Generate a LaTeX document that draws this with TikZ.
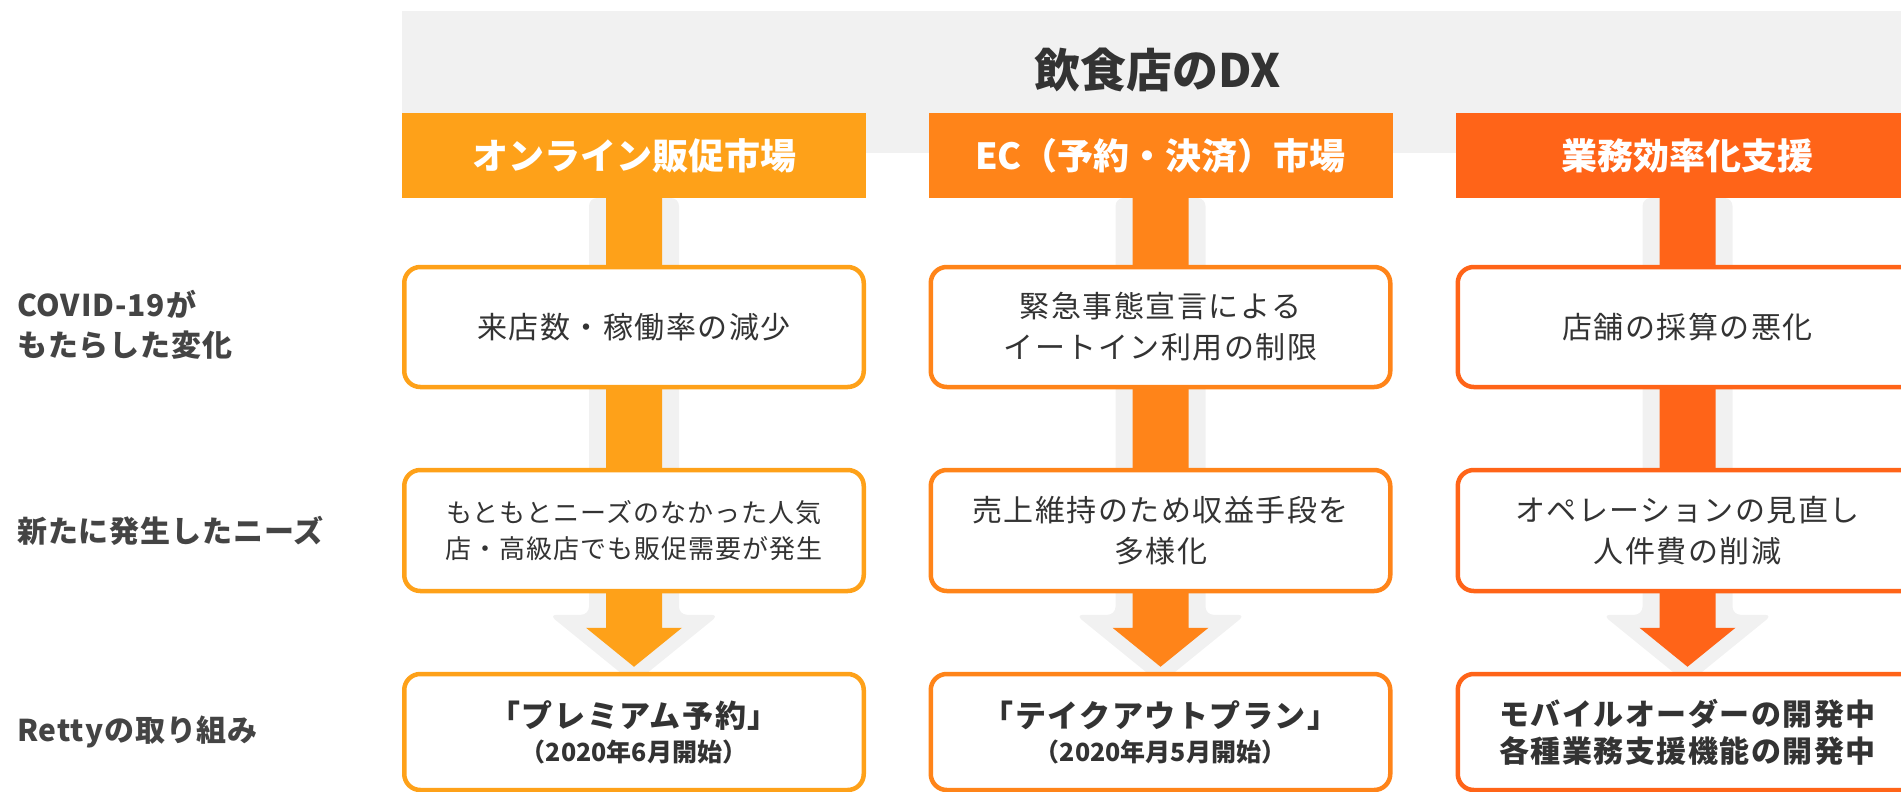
\documentclass[tikz,border=0pt]{standalone}
\usepackage{fontspec}
\setmainfont{Noto Sans CJK JP}
\usetikzlibrary{calc}
\pgfdeclarelayer{bandlayer}
\pgfdeclarelayer{shadowlayer}
\pgfdeclarelayer{stemlayer}
\pgfsetlayers{bandlayer,shadowlayer,stemlayer,main}
\definecolor{cA}{HTML}{FEA119}
\definecolor{cB}{HTML}{FF8419}
\definecolor{cC}{HTML}{FF6418}
\definecolor{bandgray}{HTML}{F1F1F1}
\definecolor{txt}{HTML}{333333}
\definecolor{lbl}{HTML}{444444}
\newcommand{\bodyfont}{\fontsize{30}{41}\selectfont\addfontfeature{LetterSpace=5}}
\newcommand{\smallbodyfont}{\fontsize{26}{36}\selectfont\addfontfeature{LetterSpace=4}}
\begin{document}
\begin{tikzpicture}[x=1pt,y=-1pt,
  hdr/.style={minimum width=464, minimum height=85, inner sep=0, outer sep=0,
    text=white, font=\fontsize{36}{40}\selectfont\bfseries},
  boxA/.style={draw, line width=4.5, fill=white, rounded corners=16,
    minimum width=459.5, inner sep=0, align=center, text=txt},
  row1/.style={boxA, minimum height=120},
  row2/.style={boxA, minimum height=121},
  row3/.style={boxA, minimum height=116},
  sidelabel/.style={anchor=west, align=left, inner sep=0, text=lbl,
    font=\fontsize{30}{40}\selectfont\bfseries\addfontfeature{LetterSpace=3}},
  titlefont/.style={text=txt, inner sep=0, font=\fontsize{46}{50}\selectfont\bfseries}
]
\useasboundingbox (0,0) rectangle (1901,792);

\begin{pgfonlayer}{bandlayer}
  \fill[bandgray] (402,11) rectangle (1901,153);
\end{pgfonlayer}

\node[titlefont] (title) at (1158,70) {飲食店のDX};

% headers
\node[hdr, fill=cA] (h1) at (634,155.5) {オンライン販促市場};
\node[hdr, fill=cB] (h2) at (1160.5,155.5) {EC（予約・決済）市場};
\node[hdr, fill=cC] (h3) at (1687.5,155.5) {業務効率化支援};

% row 1
\node[row1, draw=cA, font=\bodyfont] (r11) at (634,327) {来店数・稼働率の減少};
\node[row1, draw=cB, font=\bodyfont] (r21) at (1160.5,327) {緊急事態宣言による\\イートイン利用の制限};
\node[row1, draw=cC, font=\bodyfont] (r31) at (1687.5,327) {店舗の採算の悪化};

% row 2
\node[row2, draw=cA, font=\smallbodyfont] (r12) at (634,530.5) {もともとニーズのなかった人気\\店・高級店でも販促需要が発生};
\node[row2, draw=cB, font=\bodyfont] (r22) at (1160.5,530.5) {売上維持のため収益手段を\\多様化};
\node[row2, draw=cC, font=\bodyfont] (r32) at (1687.5,530.5) {オペレーションの見直し\\人件費の削減};

% row 3
\node[row3, draw=cA, font=\fontsize{31}{34}\selectfont\bfseries\addfontfeature{LetterSpace=5}] (r13) at (634,732)
  {「プレミアム予約」\\{\fontsize{25}{34}\selectfont\addfontfeature{LetterSpace=0}（2020年6月開始）}};
\node[row3, draw=cB, font=\fontsize{31}{34}\selectfont\bfseries\addfontfeature{LetterSpace=5}] (r23) at (1160.5,732)
  {「テイクアウトプラン」\\{\fontsize{25}{34}\selectfont\addfontfeature{LetterSpace=0}（2020年月5月開始）}};
\node[row3, draw=cC, font=\fontsize{30}{37}\selectfont\bfseries\addfontfeature{LetterSpace=5}] (r33) at (1687.5,732)
  {モバイルオーダーの開発中\\各種業務支援機能の開発中};

% side labels
\node[sidelabel] (l1) at (17,325) {COVID-19が\\もたらした変化};
\node[sidelabel] (l2) at (17,530.5) {新たに発生したニーズ};
\node[sidelabel] (l3) at (17,732) {Rettyの取り組み};

% gray shadow arrows
\begin{pgfonlayer}{shadowlayer}
  \foreach \h/\b in {h1/r13, h2/r23, h3/r33} {
    \fill[bandgray, rounded corners=8]
      ($(\h.south)+(-45,0)$) -- ($(\b.north)+(-45,-57)$) -- ($(\b.north)+(-85,-57)$)
      -- ($(\b.north)+(0,12)$) -- ($(\b.north)+(85,-57)$) -- ($(\b.north)+(45,-57)$)
      -- ($(\h.south)+(45,0)$) -- cycle;
  }
\end{pgfonlayer}

% orange arrows
\begin{pgfonlayer}{stemlayer}
  \foreach \h/\b/\c in {h1/r13/cA, h2/r23/cB, h3/r33/cC} {
    \fill[\c]
      ($(\h.south)+(-28,0)$) -- ($(\b.north)+(-28,-44)$) -- ($(\b.north)+(-48,-44)$)
      -- ($(\b.north)+(0,-5)$) -- ($(\b.north)+(48,-44)$) -- ($(\b.north)+(28,-44)$)
      -- ($(\h.south)+(28,0)$) -- cycle;
  }
\end{pgfonlayer}
\end{tikzpicture}
\end{document}
